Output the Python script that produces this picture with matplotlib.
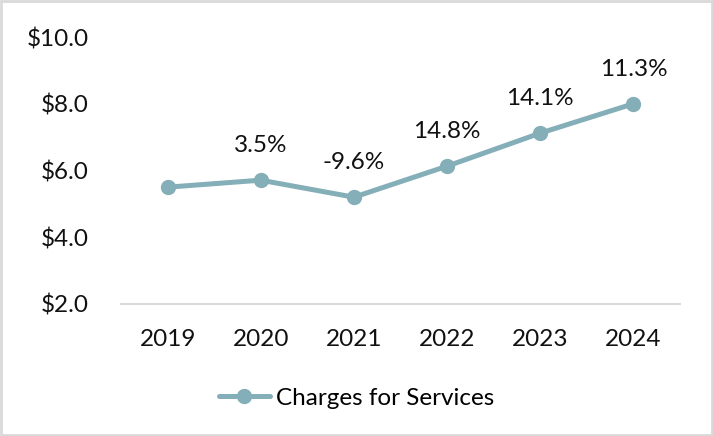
import matplotlib.pyplot as plt
from matplotlib.patches import Rectangle

# data
years = ["2019", "2020", "2021", "2022", "2023", "2024"]
charges = [5.5, 5.71, 5.2, 6.13, 7.12, 8.0]
growth = ["", "3.5%", "-9.6%", "14.8%", "14.1%", "11.3%"]
y_ticks = [2.0, 4.0, 6.0, 8.0, 10.0]

line_color = "#84AEB8"
fs = 17.5

plt.rcParams["font.family"] = ["Lato", "DejaVu Sans"]

fig = plt.figure(figsize=(7.13, 4.36), dpi=100)
ax = fig.add_axes([0.1697, 0.3028, 0.7840, 0.6123])

x = list(range(len(years)))
ax.plot(x, charges, color=line_color, lw=3.6, marker="o", ms=10,
        label="Charges for Services", solid_capstyle="round")

for xi, yi, lab in zip(x, charges, growth):
    if lab:
        ax.annotate(lab, (xi, yi), xytext=(0, 25), textcoords="offset points",
                    ha="center", va="center", fontsize=fs, color="#111111")

ax.set_xlim(-0.5, len(years) - 0.5)
ax.set_ylim(2, 10)
ax.set_xticks(x)
ax.set_xticklabels(years)
ax.set_yticks(y_ticks)
ax.set_yticklabels([f"${v:.1f}" for v in y_ticks])
ax.tick_params(axis="both", length=0, labelsize=fs, colors="#111111")
ax.tick_params(axis="y", pad=23)
ax.tick_params(axis="x", pad=18)

for side in ["top", "right", "left"]:
    ax.spines[side].set_visible(False)
ax.spines["bottom"].set_color("#D9D9D9")
ax.spines["bottom"].set_linewidth(1.5)

fig.legend(loc="center", bbox_to_anchor=(0.5, 0.087), frameon=False,
           fontsize=fs, handlelength=2.1, handletextpad=0.25)

# light frame around the whole chart
fig.patches.append(Rectangle((0.002, 0.003), 0.996, 0.994, transform=fig.transFigure,
                             fill=False, edgecolor="#D9D9D9", lw=2))

plt.savefig("out.png", dpi=100)
plt.close()
